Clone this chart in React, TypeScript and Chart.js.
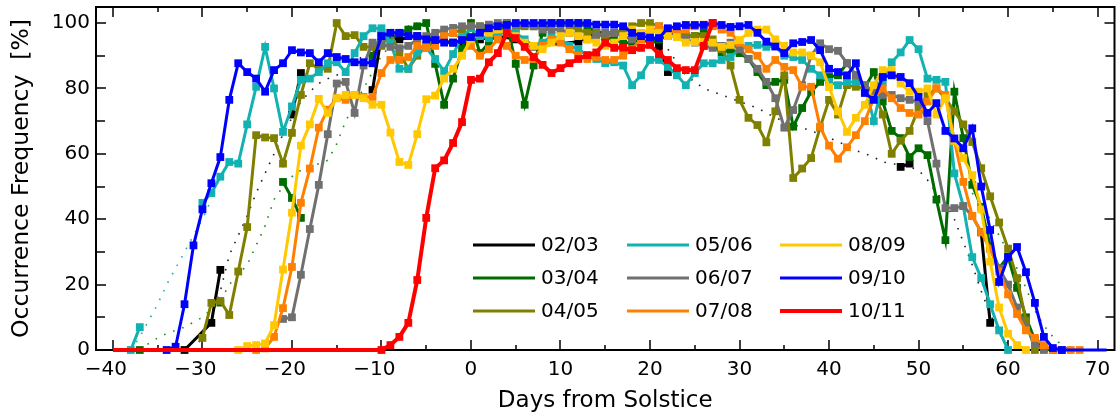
import React, { useEffect, useRef } from "react";
import { Chart, registerables } from "chart.js";

Chart.register(...registerables);

const FONT = "'DejaVu Sans', 'Liberation Sans', Arial, sans-serif";

// Axis ranges and tick labels
const X_MIN = -41.89;
const X_MAX = 71.89;
const Y_MIN = 0;
const Y_MAX = 104.9;
const X_TICKS = [-40, -30, -20, -10, 0, 10, 20, 30, 40, 50, 60, 70];
const Y_TICKS = [0, 20, 40, 60, 80, 100];
const X_MINOR_STEP = 5;
const Y_MINOR_STEP = 10;

const SEASONS = ["02/03", "03/04", "04/05", "05/06", "06/07", "07/08", "08/09", "09/10", "10/11"];
const COLORS = ["#000000", "#006c00", "#808000", "#12b2b2", "#707070", "#ff8000", "#ffc800", "#0000ff", "#ff0000"];

type Pt = { x: number; y: number | null };

// 02/03: sparse season, listed as [day, value]; null breaks the line
const S0203: [number, number | null][] = [
  [-32, 0], [-29, 8.3], [-28, 24.5], [-27, null],
  [-20, 72], [-19, 84.7], [-18, null],
  [-11, 79.5], [-10, 96], [-8, 95], [-6, 96], [-4, 95], [-2, 94], [-1, 94], [1, 95], [3, 96], [5, 95],
  [7, 92.8], [12, 94.3], [14, 97], [17, 97], [20, 96], [21, 93], [22, 85], [23, null],
  [48, 56], [49, 57], [50, null],
  [57, 36], [58, 8.3],
];

// Daily series: first day + one value per day (null = no data)
const S0304_START = -37;
const S0304 = [
  0, null, null, null, null, null, null, null, null,
  14.5, null, null, null, null, null, null,
  51.4, 46.5, 40.4, null, null, null, null, null, null, null,
  90, 97, 95, 97, 98, 99, 100, 87.5, 75, 83, 92, 100,
  90.8, 94, 97, 100, 87.5, 75, 87, 97, 100, 100,
  100, 100, 99, 97, 95.7, 95, 94, 94, 95, 94,
  95, 96, 97, 96, 96, 97, 93, 91, 91.7, 90.8,
  89, 85, 81, 82, 82.6, 68.3, 74, 79, 82, 83.5,
  84, 87.7, 84, 80.3, 85, 76, 67, 64.8, 59, 61.7,
  59.6, 46, 33.6, 79, 64.8, 50.5, 43.8, 31.8, 25, 28.6,
  19, 10, 3, 0.5, 0, 0,
];

const S0405_START = -30;
const S0405 = [
  3.7, 14.4, 15, 10.7, 24, 37.6, 65.7, 65, 64.8, 57,
  66.4, 78, 87.7, 86, 86, 100, 96, 96.3, 92.7, 92.7,
  93, 97, 91, 86, 90, 93, 95, 96, 97, 98,
  99, 99, 98, 97, 97, 98, 99, 99, 99, 100,
  100, 99, 98, 97, 97, 96, 97, 98, 99, 100,
  100, 99, 98, 97, 96, 96, 96, 95, 92, 87,
  76.5, 71, 68.8, 63.5, 73, 84, 52.6, 55.5, 58.7, 68,
  76.5, 72, 81, 80.5, 80, 79, 72, 60, 64, 67,
  74, 78, 80, 77, 73, 69, 63.6, 55.6, 47, 39,
  31, 22, 9, 0,
];

const S0506_START = -38;
const S0506 = [
  0, 7, null, null, null, null, null, null,
  45, 48, 53, 57.5, 57, 69, 80.5, 92.7, 80, 66.7,
  74.5, 82.6, 83, 85, 87.7, 88, 85, 90.8, 96, 98.4,
  98.4, 94, 86, 86, 91, 92.4, 89, 85.3, 90.5, 95.7,
  98.4, 96, 95.4, 97, 98, 97, 95, 93, 94, 96,
  95, 93, 92, 90, 89, 87.7, 88, 87, 81, 84,
  88.7, 88.7, 86.6, 84, 81, 84.7, 87.7, 87.7, 88.7, 89.6,
  92, 93, 93.3, 92.7, 93, 90, 89.6, 88.7, 86, 84,
  82, 81, 82, 82, 81, 70, 82, 88, 91, 94.8,
  92, 83, 82.6, 82, 54, 44, 28.4, 22, 14, 6,
  0,
];

const S0607_START = -21;
const S0607 = [
  9.5, 10, 23, 37, 50.5, 66, 81.5, 82, 72.5, 87,
  94, 93.5, 92.7, 92.3, 93, 95, 96, 97, 98, 98.5,
  99, 99, 99, 99.5, 100, 100, 99.5, 99.5, 99, 98,
  98, 98, 97, 96, 95, 96, 97, 97, 96, 95,
  96, 97, 98, 97, 96, 95, 94, 93, 92.4, 93,
  94, 92, 89, 86, 82, 77, 68, 73.4, 81, 90,
  93.8, 92, 91.5, 87.7, 84, 81, 79, 78, 78, 77,
  76.5, 75.8, 70, 57, 43.4, 43.4, 44, 41, 36, 31,
  25, 20, 13, 7, 2, 0,
];

const S0708_START = -24;
const S0708 = [
  0, 0.5, 4, 12.8, 25.4, 45, 55.5, 68, 73.5, 77,
  76.5, 78, 77.4, 77.4, 84.7, 88.7, 88.7, 89.6, 93, 92.5,
  93, 96, 97, 95, 93, 90, 92, 95, 93, 90,
  88.7, 89, 93, 95, 94, 92, 90, 89, 89.6, 88.7,
  88.7, 90, 92, 95, 97, 99, 98, 97, 98, 99,
  99.5, 99, 98, 97, 94, 92, 90, 86, 88.7, 86.6,
  85.6, 80.5, 80.5, 68.3, 62.5, 58.5, 62, 65.7, 70, 77,
  80, 77, 74, 72.5, 72, 76, 80, 78, 64, 51.4,
  41, 36, 31, 24, 17, 11, 6, 3.7, 1.5, 0,
  0, 0, 0,
];

const S0809_START = -26;
const S0809 = [
  0, 1.2, 1.5, 2, 7.6, 24.6, 42, 62.5, 69, 76.8,
  72.5, 77, 78, 78, 77, 75, 75, 66.5, 57.5, 56.6,
  66, 76.7, 77.8, 83, 86, 90, 95, 97, 97, 98,
  97, 96, 94, 93, 92, 94, 96, 97, 96, 95,
  94, 93, 94, 96, 98, 97, 98, 97, 96, 95.7,
  94, 94.2, 94.2, 94, 92.7, 93.3, 94.8, 97, 98, 98,
  95, 93, 91, 91, 90, 88, 80.4, 73, 66.7, 71,
  75, 81, 85.6, 85.6, 81.5, 79, 79, 80, 72, 77,
  64, 58.7, 53.5, 43, 27, 13, 5, 1.5, 0,
];

const S0910_START = -34;
const S0910 = [
  0, 1, 14, 32, 43, 51, 59, 76.5, 87.7, 85,
  83, 79, 85.6, 87.7, 91.7, 91, 90.8, 88, 90.8, 89.6,
  89, 88, 88, 87.7, 96, 97, 97, 96, 96, 95,
  94.8, 94, 94, 94.8, 95.7, 97, 98.4, 99, 99.4, 100,
  100, 100, 100, 100, 100, 100, 100, 100, 99.5, 99.5,
  99.5, 99, 97, 96, 95.5, 95.4, 98.4, 99, 99.4, 99.4,
  99.4, 100, 99.4, 98.8, 99, 99.4, 97, 94.3, 92.8, 90.8,
  93.8, 94.2, 94.8, 91.7, 86, 85, 84, 87.7, 78.6, 76.5,
  83.5, 84, 83.5, 81.6, 77.4, 72.5, 75.5, 67, 64.7, 61.7,
  67.8, 50, 36.7, 20.8, 28.4, 31.5, 23.8, 14.4, 4, 0.6,
  0, 0, 0, 0, 0, 0,
];

const S1011_START = -40;
const S1011 = [
  0, 0, 0, 0, 0, 0, 0, 0, 0, 0,
  0, 0, 0, 0, 0, 0, 0, 0, 0, 0,
  0, 0, 0, 0, 0, 0, 0, 0, 0, 0,
  0, 1.5, 4, 8.3, 21.4, 40.4, 55.6, 58, 63.3, 69.7,
  82.6, 83, 88, 90.8, 97, 95.4, 92.7, 89.6, 87.2, 84.7,
  86.2, 87.7, 89, 90.2, 91, 94, 92.4, 92.4, 91.7, 92.4,
  93.3, 90.5, 88.7, 86.2, 85.6, 85.6, 93, 100,
];

// Reference curves (dotted, no markers)
const REF_CYAN_START = -38;
const REF_CYAN = [0, 4, 9, 14, 20, 25, 30, 35, 40, 46];

const REF_GREEN_RISE_START = -37;
const REF_GREEN_RISE = [
  0, 2, 3.7, 5, 6, 7, 8.5, 10, 12.5, 15, 20, 23, 26, 32, 38, 46,
  50, 53, 55, 56, 57, 58, 63, 70, 75, 80, 85, 90, 93, 96, 98, 100,
];
const REF_GREEN_FALL_START = 56;
const REF_GREEN_FALL = [48, 44, 40, 35, 30, 25, 19, 12, 7.5, 4, 1.5, 0];

const REF_BLACK_RISE_START = -31;
const REF_BLACK_RISE = [
  0, 4, 10, 18, 29, 35, 41, 48, 54, 60, 66, 71, 76, 79, 81.5,
  83, 84, 86, 88, 90, 92, 94, 96, 97.5, 99, 100,
];
const REF_BLACK_FALL_START = 22;
const REF_BLACK_FALL = [
  92, 88, 84, 82, 80, 79, 78, 77, 76, 75, 74, 72.5, 71, 70, 69,
  68, 67, 66, 65, 63.6, 62.7, 61, 60, 59, 57.5, 57, 56.5, 56, 55,
  52, 48, 45, 40, 33, 26, 18, 11, 5, 2, 0,
];

const daily = (start: number, values: (number | null)[]): Pt[] =>
  values.map((y, i) => ({ x: start + i, y }));
const fromPairs = (p: [number, number | null][]): Pt[] => p.map(([x, y]) => ({ x, y }));
const joinRuns = (a: Pt[], b: Pt[]): Pt[] => [...a, { x: (a[a.length - 1].x + b[0].x) / 2, y: null }, ...b];

// Negative labels keep their digits centred on the tick, the minus hangs to the left
const fmtXTick = (v: number) => (v < 0 ? "\u2212" + Math.abs(v) + "\u2002\u2009" : String(v));
const fmtYTick = (v: number) => String(v);

const framePlugin = {
  id: "frameTicks",
  beforeDatasetsDraw(chart: any) {
    const { ctx, chartArea: a, scales } = chart;
    const xs = scales.x;
    const ys = scales.y;
    ctx.save();
    ctx.strokeStyle = "#000";
    ctx.lineWidth = 2;
    ctx.strokeRect(a.left, a.top, a.right - a.left, a.bottom - a.top);
    ctx.lineWidth = 1.5;
    ctx.beginPath();
    const x0 = X_TICKS[0];
    const x1 = X_TICKS[X_TICKS.length - 1];
    for (let v = x0; v <= x1; v += X_MINOR_STEP) {
      const px = Math.round(xs.getPixelForValue(v));
      const len = X_TICKS.includes(v) ? 10 : 5;
      ctx.moveTo(px, a.bottom);
      ctx.lineTo(px, a.bottom - len);
      ctx.moveTo(px, a.top);
      ctx.lineTo(px, a.top + len);
    }
    const y0 = Y_TICKS[0];
    const y1 = Y_TICKS[Y_TICKS.length - 1];
    for (let v = y0; v <= y1; v += Y_MINOR_STEP) {
      const py = Math.round(ys.getPixelForValue(v));
      const len = Y_TICKS.includes(v) ? 10 : 9;
      ctx.moveTo(a.left, py);
      ctx.lineTo(a.left + len, py);
      ctx.moveTo(a.right, py);
      ctx.lineTo(a.right - len, py);
    }
    ctx.stroke();
    ctx.restore();
  },
};

const LEGEND_COL_X = [473, 627, 780];
const LEGEND_ROW_Y = [245, 278, 311];

const legendPlugin = {
  id: "seasonLegend",
  afterDatasetsDraw(chart: any) {
    const { ctx } = chart;
    ctx.save();
    ctx.font = `20px ${FONT}`;
    ctx.textBaseline = "middle";
    ctx.textAlign = "left";
    SEASONS.forEach((label, i) => {
      const col = Math.floor(i / 3);
      const row = i % 3;
      const x = LEGEND_COL_X[col];
      const y = LEGEND_ROW_Y[row];
      ctx.strokeStyle = COLORS[i];
      ctx.lineWidth = label === "10/11" ? 4 : 3;
      ctx.beginPath();
      ctx.moveTo(x, y);
      ctx.lineTo(x + 62, y);
      ctx.stroke();
      ctx.fillStyle = "#000";
      ctx.fillText(label, x + 68, y + 1);
    });
    ctx.restore();
  },
};

export default function App() {
  const canvasRef = useRef<HTMLCanvasElement | null>(null);

  useEffect(() => {
    const canvas = canvasRef.current;
    if (!canvas) return;

    const seasonData: Pt[][] = [
      fromPairs(S0203),
      daily(S0304_START, S0304),
      daily(S0405_START, S0405),
      daily(S0506_START, S0506),
      daily(S0607_START, S0607),
      daily(S0708_START, S0708),
      daily(S0809_START, S0809),
      daily(S0910_START, S0910),
      daily(S1011_START, S1011),
    ];

    // days on which markers are drawn (long zero runs are plain line)
    const markerRange: [number, number][] = SEASONS.map((s) =>
      s === "10/11" ? [-10, 100] : s === "09/10" ? [-100, 66] : [-100, 100]
    );

    const refSets = [
      { data: daily(REF_CYAN_START, REF_CYAN), color: "#12b2b2" },
      {
        data: joinRuns(daily(REF_GREEN_RISE_START, REF_GREEN_RISE), daily(REF_GREEN_FALL_START, REF_GREEN_FALL)),
        color: "#1c8c1c",
      },
      {
        data: joinRuns(daily(REF_BLACK_RISE_START, REF_BLACK_RISE), daily(REF_BLACK_FALL_START, REF_BLACK_FALL)),
        color: "#222222",
      },
    ];

    const datasets: any[] = [];
    refSets.forEach((r, i) => {
      datasets.push({
        label: "ref" + i,
        data: r.data,
        borderColor: r.color,
        borderWidth: 1.6,
        borderDash: [1.6, 8],
        pointRadius: 0,
        showLine: true,
        clip: 8,
        order: 100 - i,
      });
    });
    seasonData.forEach((data, i) => {
      const color = COLORS[i];
      const [mFrom, mTo] = markerRange[i];
      const isRed = SEASONS[i] === "10/11";
      datasets.push({
        label: SEASONS[i],
        data,
        borderColor: color,
        backgroundColor: color,
        borderWidth: isRed ? 4 : 3,
        pointStyle: "rect",
        pointRadius: (c: any) => {
          const raw = c.raw as Pt;
          return raw && raw.x >= mFrom && raw.x <= mTo ? 5.5 : 0;
        },
        pointBorderWidth: 0,
        pointBackgroundColor: color,
        showLine: true,
        spanGaps: false,
        tension: 0,
        clip: 8,
        order: -i,
      });
    });

    const chart = new Chart(canvas, {
      type: "line",
      data: { datasets },
      options: {
        responsive: false,
        animation: false,
        devicePixelRatio: 1,
        events: [],
        layout: { padding: { top: 7, right: 0, bottom: 0, left: 0 } },
        plugins: { legend: { display: false }, tooltip: { enabled: false } },
        scales: {
          x: {
            type: "linear",
            min: X_MIN,
            max: X_MAX,
            afterBuildTicks: (s: any) => {
              s.ticks = X_TICKS.map((v) => ({ value: v }));
            },
            afterFit: (s: any) => {
              s.height = 66;
              s.paddingLeft = 0;
              s.paddingRight = 0;
            },
            grid: { display: false, drawTicks: false },
            border: { display: false },
            ticks: {
              autoSkip: false,
              maxRotation: 0,
              padding: 8,
              color: "#000",
              font: { family: FONT, size: 20 },
              callback: (v: any) => fmtXTick(Number(v)),
            },
            title: {
              display: true,
              text: "Days from Solstice",
              color: "#000",
              font: { family: FONT, size: 23 },
              padding: { top: 0, bottom: 1 },
            },
          },
          y: {
            type: "linear",
            min: Y_MIN,
            max: Y_MAX,
            afterBuildTicks: (s: any) => {
              s.ticks = Y_TICKS.map((v) => ({ value: v }));
            },
            afterFit: (s: any) => {
              s.width = 96;
              s.paddingTop = 0;
              s.paddingBottom = 0;
            },
            grid: { display: false, drawTicks: false },
            border: { display: false },
            ticks: {
              padding: 6,
              color: "#000",
              font: { family: FONT, size: 20 },
              callback: (v: any) => fmtYTick(Number(v)),
            },
            title: {
              display: true,
              text: "Occurrence Frequency  [%]",
              color: "#000",
              font: { family: FONT, size: 23.5 },
              padding: { top: 8, bottom: 0 },
            },
          },
        },
      },
      plugins: [framePlugin, legendPlugin],
    });

    return () => chart.destroy();
  }, []);

  return (
    <div style={{ position: "fixed", left: 0, top: 0, width: 1120, height: 416, background: "#fff" }}>
      <canvas ref={canvasRef} width={1120} height={416} style={{ display: "block" }} />
    </div>
  );
}
